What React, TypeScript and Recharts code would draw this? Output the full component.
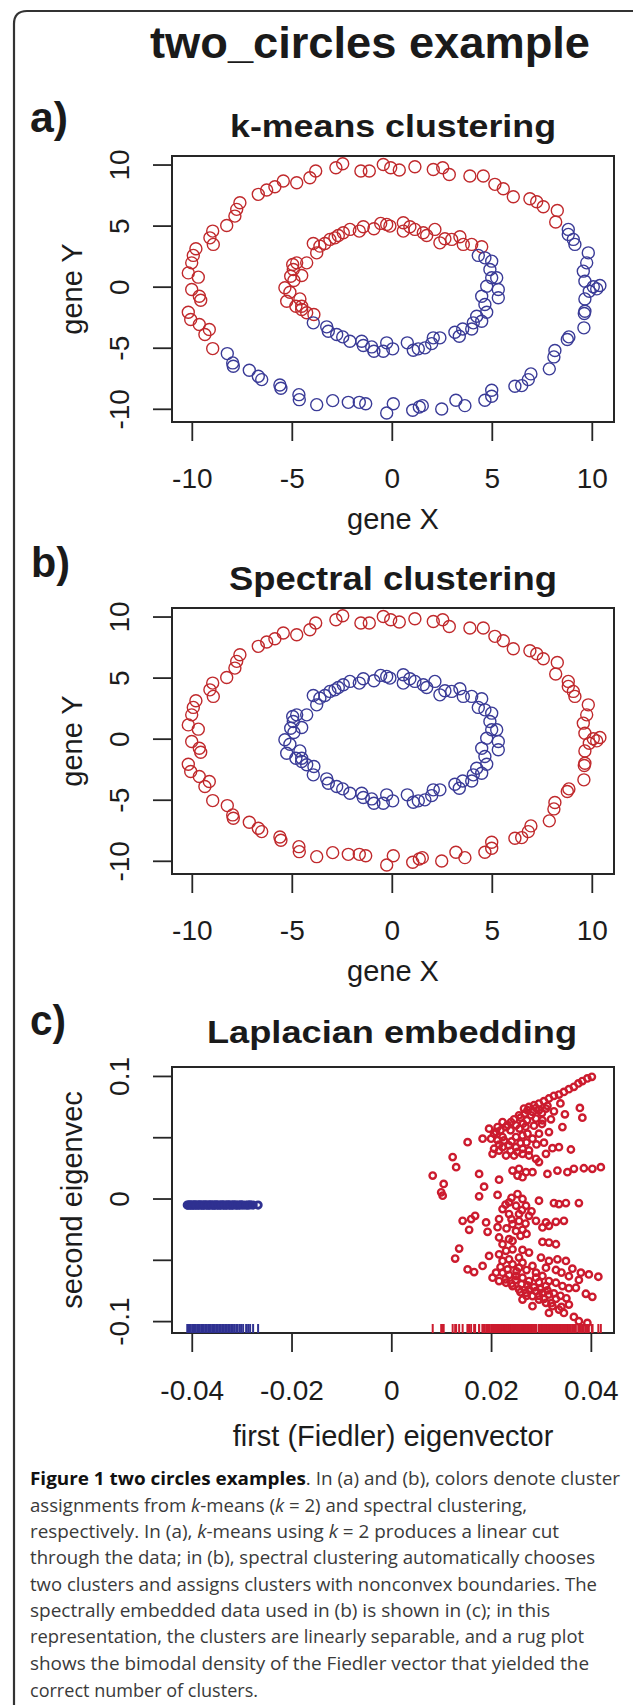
import React from 'react';
import { ScatterChart, Scatter, XAxis, YAxis, ReferenceArea } from 'recharts';

// ---------- data ----------
const ringTicks = [-10, -5, 0, 5, 10];
const fiedlerTicks = [-0.04, -0.02, 0, 0.02, 0.04];
const eigenTicks = [-0.1, -0.05, 0, 0.05, 0.1];
const eigenLabelled = [-0.1, 0, 0.1];

// outer ring, part that k-means puts in the red cluster
const outerUpper: [number, number][] = [
  [8.17, 5.33], [8.25, 6.28], [7.55, 6.58], [7.22, 6.99], [6.88, 7.24], [6.05, 7.4], [5.55, 8.06], [5.13, 8.42],
  [4.55, 9.1], [3.88, 9.1], [2.85, 9.23], [2.52, 9.78], [2.05, 9.64], [1.13, 9.86], [0.35, 9.59], [-0.08, 9.78],
  [-0.45, 10.05], [-1.15, 9.51], [-1.57, 9.51], [-2.48, 10.11], [-2.82, 9.78], [-3.83, 9.51], [-4.12, 8.96],
  [-4.78, 8.55], [-5.45, 8.69], [-5.87, 8.22], [-6.28, 7.95], [-6.7, 7.6], [-7.62, 6.91], [-7.78, 6.37],
  [-7.87, 5.82], [-8.28, 5.05], [-8.98, 4.59], [-9.12, 4.04], [-8.95, 3.5], [-9.82, 3.14], [-9.95, 2.6],
  [-10.03, 1.99], [-10.2, 1.17], [-9.7, 0.82], [-10.03, -0.19], [-9.65, -0.74], [-9.58, -1.07], [-10.2, -2.05],
  [-10.08, -2.65], [-9.65, -3.06], [-9.15, -3.47], [-9.37, -3.88], [-8.98, -5.03],
];
// outer ring, part that k-means puts in the blue cluster
const outerLower: [number, number][] = [
  [-8.25, -5.44], [-7.98, -6.2], [-7.95, -6.48], [-7.15, -6.8], [-6.7, -7.3], [-6.53, -7.57], [-5.62, -8.01],
  [-5.57, -8.28], [-4.67, -8.8], [-4.65, -9.21], [-3.78, -9.62], [-2.98, -9.29], [-2.2, -9.43], [-1.65, -9.43],
  [-1.33, -9.54], [-0.28, -10.3], [0.05, -9.54], [1.02, -10.08], [1.35, -9.81], [1.5, -9.7], [2.47, -9.97],
  [3.18, -9.26], [3.63, -9.7], [4.63, -9.26], [4.97, -8.44], [4.97, -8.93], [6.13, -8.11], [6.47, -8.06],
  [6.8, -7.57], [6.93, -7.1], [7.85, -6.69], [8.08, -5.71], [8.13, -5.19], [8.75, -4.29], [8.83, -4.07],
  [9.58, -3.33], [9.6, -2.16], [9.63, -1.97], [9.63, -0.96], [9.85, -0.33], [10.05, 0.03], [10.38, 0.14],
  [10.22, -0.14], [9.63, 0.49], [9.55, 1.31], [9.72, 1.99], [9.8, 2.81], [9.13, 3.5], [9.05, 3.91],
  [8.8, 4.32], [8.8, 4.73],
];
// inner ring, k-means red part
const innerUpper: [number, number][] = [
  [4.47, 3.31], [3.97, 3.5], [3.55, 3.5], [3.38, 4.13], [2.97, 3.91], [2.63, 3.96], [2.38, 3.63], [2.13, 4.73],
  [1.72, 4.23], [1.55, 4.45], [1.13, 4.73], [0.88, 4.95], [0.55, 4.59], [0.55, 5.27], [-0.12, 5.0], [-0.28, 5.14],
  [-0.58, 5.22], [-0.92, 4.78], [-1.45, 4.95], [-1.65, 4.59], [-2.12, 4.73], [-2.45, 4.45], [-2.7, 4.23],
  [-2.87, 4.04], [-3.12, 3.91], [-3.37, 3.58], [-3.62, 3.36], [-3.78, 2.81], [-3.95, 3.58], [-4.28, 1.99],
  [-4.78, 1.99], [-4.98, 1.86], [-4.95, 1.45], [-4.53, 0.96], [-5.08, 0.9], [-4.92, 0.55], [-5.37, -0.05],
  [-5.12, -0.41], [-5.28, -1.15], [-4.62, -0.96], [-4.82, -1.56], [-4.53, -1.83], [-4.28, -2.1], [-4.53, -1.56],
  [-3.92, -2.24],
];
// inner ring, k-means blue part
const innerLower: [number, number][] = [
  [-3.95, -2.92], [-3.28, -3.25], [-3.2, -3.61], [-2.78, -3.88], [-2.48, -4.07], [-2.12, -4.43], [-1.53, -4.43],
  [-1.45, -4.78], [-1.03, -4.89], [-0.92, -5.25], [-0.45, -5.25], [-0.28, -4.56], [0.02, -5.05], [0.75, -4.56],
  [1.05, -5.16], [1.3, -5.05], [1.63, -4.97], [1.97, -4.62], [2.05, -4.15], [2.38, -4.15], [3.13, -3.69],
  [3.35, -4.02], [3.52, -3.42], [3.97, -3.42], [4.05, -2.92], [4.22, -2.38], [4.47, -2.79], [4.72, -2.05],
  [4.63, -1.42], [4.47, -0.74], [4.72, 0.08], [5.3, -0.19], [5.3, -0.87], [4.97, 0.77], [5.22, 0.77],
  [4.88, 1.45], [4.97, 2.13], [4.63, 2.4], [4.3, 2.6],
];
// Laplacian embedding: outer-ring cluster (red)
const embedRed: [number, number][] = [
  [0.0401, 0.0997], [0.0392, 0.0984], [0.0382, 0.0962], [0.0374, 0.0943], [0.0365, 0.0915], [0.0355, 0.0896],
  [0.0345, 0.0874], [0.0335, 0.0852], [0.0325, 0.0842], [0.0315, 0.082], [0.0305, 0.0798], [0.0295, 0.0779],
  [0.0285, 0.0765], [0.0275, 0.0751], [0.0265, 0.0738], [0.0267, 0.0697], [0.0282, 0.071], [0.0295, 0.0724],
  [0.0309, 0.0738], [0.0289, 0.0656], [0.0302, 0.0642], [0.0319, 0.065], [0.0347, 0.0691], [0.0377, 0.0743],
  [0.0382, 0.0664], [0.0255, 0.0683], [0.0239, 0.0628], [0.0222, 0.0628], [0.0212, 0.0587], [0.0195, 0.0574],
  [0.0229, 0.0587], [0.0249, 0.0601], [0.0263, 0.0615],
  [0.0272, 0.0724], [0.0289, 0.0742], [0.0301, 0.0701], [0.0312, 0.076], [0.0325, 0.0715], [0.0338, 0.078],
  [0.0279, 0.0683], [0.0258, 0.0664], [0.0271, 0.0642], [0.0245, 0.065], [0.0232, 0.0605], [0.0218, 0.056],
  [0.0209, 0.0547], [0.0238, 0.056], [0.0256, 0.0575], [0.0268, 0.059], [0.0285, 0.0598], [0.0301, 0.0612],
  [0.0152, 0.0464], [0.0182, 0.0492], [0.0205, 0.0533], [0.0199, 0.0492], [0.0222, 0.0505], [0.0249, 0.0505],
  [0.0262, 0.0519], [0.0272, 0.0533], [0.0282, 0.0492], [0.0295, 0.0533], [0.0315, 0.0546], [0.0342, 0.0587],
  [0.0322, 0.0415], [0.0335, 0.0423], [0.0359, 0.0404], [0.0309, 0.0369], [0.0289, 0.0328], [0.0295, 0.0301],
  [0.0275, 0.0396], [0.0262, 0.041], [0.0249, 0.0423], [0.0235, 0.0437], [0.0222, 0.0423], [0.0205, 0.041],
  [0.0202, 0.0369], [0.0229, 0.0355], [0.0245, 0.0355], [0.0262, 0.0369], [0.0275, 0.0355], [0.0225, 0.0478],
  [0.0215, 0.0443], [0.0212, 0.048], [0.024, 0.047], [0.0258, 0.0455], [0.027, 0.0462], [0.029, 0.0445],
  [0.0305, 0.046], [0.0238, 0.0395], [0.0252, 0.0385], [0.0215, 0.0395],
  [0.0242, 0.0232], [0.0255, 0.0246], [0.0269, 0.0219], [0.0262, 0.0178], [0.0252, 0.0191], [0.0282, 0.0219],
  [0.0312, 0.0205], [0.0332, 0.0232], [0.0352, 0.0219], [0.0365, 0.0246], [0.0385, 0.0251], [0.0402, 0.0246],
  [0.0419, 0.026], [0.0175, 0.0205], [0.0215, 0.0158], [0.0185, 0.0101], [0.0122, 0.0342], [0.0129, 0.026],
  [0.0082, 0.0191], [0.0104, 0.0123], [0.0099, 0.0055], [0.0102, 0.0027], [0.0175, 0.0022], [0.0212, 0.0033],
  [0.0235, -0.0027], [0.0249, -0.0055], [0.0262, 0.0], [0.0269, -0.0055], [0.0295, -0.0014], [0.0325, -0.0033],
  [0.0335, -0.0041], [0.0349, -0.0033], [0.0375, -0.0033], [0.0222, -0.0082], [0.0235, -0.0123], [0.0255, -0.0123],
  [0.0275, -0.0137], [0.0289, -0.0178], [0.0309, -0.0191], [0.0329, -0.0186], [0.0345, -0.0178], [0.0302, -0.0232],
  [0.0315, -0.0219], [0.0215, -0.0164], [0.0242, -0.0205], [0.0249, -0.026], [0.0262, -0.0251], [0.0142, -0.0178],
  [0.0159, -0.0164], [0.0167, -0.0137], [0.0189, -0.0191], [0.0155, -0.0251], [0.0192, -0.0268], [0.0215, -0.0314],
  [0.0235, -0.0328], [0.0222, -0.0369], [0.0242, -0.0342], [0.0302, -0.035], [0.0315, -0.0355], [0.0329, -0.0369],
  [0.0252, 0.004], [0.024, 0.001], [0.0228, -0.0045], [0.0261, -0.009], [0.028, -0.01], [0.024, -0.0165],
  [0.0255, -0.018], [0.0268, -0.02], [0.023, -0.024], [0.0212, -0.023], [0.0258, -0.03], [0.027, -0.0285],
  [0.0135, -0.0404], [0.0127, -0.0486], [0.0152, -0.0574], [0.0165, -0.0596], [0.0182, -0.0546], [0.0195, -0.0464],
  [0.0215, -0.0451], [0.0229, -0.0423], [0.0242, -0.041], [0.0262, -0.0415], [0.0275, -0.0437], [0.0255, -0.0478],
  [0.0235, -0.0492], [0.0222, -0.0505], [0.0242, -0.0533], [0.0262, -0.0519], [0.0282, -0.0546], [0.0299, -0.0478],
  [0.0315, -0.0505], [0.0332, -0.0492], [0.0349, -0.0505], [0.0362, -0.0568], [0.0379, -0.0601], [0.0395, -0.0615],
  [0.0414, -0.0634], [0.0329, -0.0579], [0.0309, -0.056], [0.0289, -0.0601], [0.0202, -0.0642], [0.0215, -0.0669],
  [0.0229, -0.0683], [0.0242, -0.071], [0.0255, -0.0738], [0.0269, -0.0765], [0.0282, -0.0792], [0.0295, -0.082],
  [0.0309, -0.0847], [0.0322, -0.0874], [0.0335, -0.0902], [0.0345, -0.0929], [0.0249, -0.0628], [0.0262, -0.0642],
  [0.0275, -0.0669], [0.0289, -0.0642], [0.0302, -0.0628], [0.0315, -0.0669], [0.0329, -0.0683], [0.0342, -0.071],
  [0.0355, -0.0727], [0.0369, -0.0724], [0.0389, -0.0773], [0.0402, -0.0798], [0.0209, -0.0601], [0.0222, -0.0601],
  [0.0275, -0.0738], [0.0289, -0.0751], [0.0302, -0.0765], [0.0315, -0.0779], [0.0329, -0.0814], [0.0309, -0.071],
  [0.0295, -0.0678], [0.0262, -0.082], [0.0282, -0.0874], [0.0315, -0.0929], [0.0365, -0.0962], [0.0375, -0.0997],
  [0.0392, -0.1011], [0.0355, -0.0861],
  [0.0235, -0.062], [0.0248, -0.066], [0.026, -0.0695], [0.0272, -0.0705], [0.0285, -0.072], [0.0298, -0.0735],
  [0.0312, -0.0745], [0.0325, -0.077], [0.0338, -0.079], [0.035, -0.081], [0.0228, -0.0655], [0.024, -0.069],
  [0.0258, -0.076], [0.027, -0.079], [0.0295, -0.079], [0.0305, -0.0815], [0.032, -0.085], [0.034, -0.088],
  [0.0255, -0.056], [0.027, -0.058], [0.0218, -0.0555], [0.0232, -0.0575], [0.025, -0.059], [0.034, -0.06],
  [0.0355, -0.063], [0.0375, -0.066],
];
// Laplacian embedding: inner-ring cluster (blue), collapsed onto one line
const embedBlue: [number, number][] = [
  [-0.041, -0.0049], [-0.0408, -0.005], [-0.0405, -0.0048], [-0.0403, -0.0049], [-0.04, -0.005], [-0.0398, -0.0049],
  [-0.0395, -0.0048], [-0.0393, -0.0049], [-0.039, -0.005], [-0.0387, -0.0049], [-0.0385, -0.0048], [-0.0382, -0.0049],
  [-0.0379, -0.005], [-0.0377, -0.0049], [-0.0374, -0.0048], [-0.0371, -0.0049], [-0.0368, -0.005], [-0.0366, -0.0049],
  [-0.0363, -0.0048], [-0.036, -0.0049], [-0.0357, -0.005], [-0.0355, -0.0049], [-0.0352, -0.0048], [-0.0349, -0.0049],
  [-0.0346, -0.005], [-0.0343, -0.0049], [-0.034, -0.0048], [-0.0337, -0.0049], [-0.0334, -0.005], [-0.0331, -0.0049],
  [-0.0328, -0.0048], [-0.0325, -0.0049], [-0.0322, -0.005], [-0.0319, -0.0049], [-0.0316, -0.0048], [-0.0312, -0.0049],
  [-0.0309, -0.005], [-0.0305, -0.0049], [-0.0302, -0.0048], [-0.0298, -0.0049], [-0.0292, -0.005], [-0.0288, -0.0049],
  [-0.0284, -0.0048], [-0.0278, -0.0049], [-0.0268, -0.0049],
];

const captionLines: { t: string; b?: boolean; i?: boolean }[][] = [
  [{ t: 'Figure 1 two circles examples', b: true }, { t: '. In (a) and (b), colors denote cluster' }],
  [{ t: 'assignments from ' }, { t: 'k', i: true }, { t: '-means (' }, { t: 'k', i: true }, { t: ' = 2) and spectral clustering,' }],
  [{ t: 'respectively. In (a), ' }, { t: 'k', i: true }, { t: '-means using ' }, { t: 'k', i: true }, { t: ' = 2 produces a linear cut' }],
  [{ t: 'through the data; in (b), spectral clustering automatically chooses' }],
  [{ t: 'two clusters and assigns clusters with nonconvex boundaries. The' }],
  [{ t: 'spectrally embedded data used in (b) is shown in (c); in this' }],
  [{ t: 'representation, the clusters are linearly separable, and a rug plot' }],
  [{ t: 'shows the bimodal density of the Fiedler vector that yielded the' }],
  [{ t: 'correct number of clusters.' }],
];
const captionWidths = [590, 497, 529, 565, 567, 520, 554, 559, 228];

// ---------- styles ----------
const RED = '#c0292c';
const BLUE = '#3a3b97';
const C_RED = '#cc1b2e';
const C_BLUE = '#2f3191';
const AXIS = '#262626';
const TXT = '#1c1c1c';
const SANS = "'Liberation Sans', Arial, sans-serif";

const toPts = (a: [number, number][]) => a.map(([x, y]) => ({ x, y }));

const ringDot = (color: string) => (p: any) => (
  <circle cx={p.cx} cy={p.cy} r={6} fill="none" stroke={color} strokeWidth={1.4} />
);
const embedDot = (color: string, sw: number) => (p: any) => (
  <circle cx={p.cx} cy={p.cy} r={3.2} fill="none" stroke={color} strokeWidth={sw} />
);
const rugMark = (color: string) => (p: any) => (
  <line x1={p.cx} x2={p.cx} y1={p.cy - 9} y2={p.cy} stroke={color} strokeWidth={2} />
);

const xTick = (dy: number) => (p: any) => (
  <text x={p.x} y={p.y + dy} textAnchor="middle" fontSize={28} fontFamily={SANS} fill={TXT}>
    {String(p.payload.value)}
  </text>
);
const yTick = (show?: number[]) => (p: any) => {
  const v = p.payload.value;
  if (show && !show.some((s) => Math.abs(s - v) < 1e-9)) return <g />;
  const bx = p.x - 24;
  return (
    <text transform={`rotate(-90 ${bx} ${p.y})`} x={bx} y={p.y} textAnchor="middle" fontSize={28} fontFamily={SANS} fill={TXT}>
      {String(v)}
    </text>
  );
};
const xTitle = (label: string, dy: number) => (p: any) => {
  const vb = p.viewBox || { x: 172, y: 282, width: 442, height: 118 };
  const cx = vb.x + vb.width / 2;
  return (
    <text x={cx} y={vb.y + dy} textAnchor="middle" fontSize={29} fontFamily={SANS} fill={TXT}>
      {label}
    </text>
  );
};
const yTitle = (label: string) => (p: any) => {
  const vb = p.viewBox || { x: 0, y: 16, width: 172, height: 266 };
  const cy = vb.y + vb.height / 2;
  const bx = 82;
  return (
    <text transform={`rotate(-90 ${bx} ${cy})`} x={bx} y={cy} textAnchor="middle" fontSize={29} fontFamily={SANS} fill={TXT}>
      {label}
    </text>
  );
};

const RX: [number, number] = [-11.015, 11.085];
const RY: [number, number] = [-11.04, 10.74];
const FX: [number, number] = [-0.04406, 0.04454];
const FY: [number, number] = [-0.1093, 0.1077];

function RingPanel({ top, red, blue }: { top: number; red: { x: number; y: number }[]; blue: { x: number; y: number }[] }) {
  return (
    <div style={{ position: 'absolute', left: 0, top, width: 633, height: 400 }}>
      <ScatterChart width={633} height={400} margin={{ top: 16, right: 19, bottom: 0, left: 0 }}>
        <XAxis
          type="number" dataKey="x" domain={RX} allowDataOverflow ticks={ringTicks} interval={0}
          tickSize={19} tickMargin={0} height={118} axisLine={false}
          tickLine={{ stroke: AXIS, strokeWidth: 1.8 }} tick={xTick(47)} label={xTitle('gene X', 107)}
        />
        <YAxis
          type="number" dataKey="y" domain={RY} allowDataOverflow ticks={ringTicks} interval={0}
          tickSize={19} tickMargin={0} width={172} axisLine={false}
          tickLine={{ stroke: AXIS, strokeWidth: 1.8 }} tick={yTick()} label={yTitle('gene Y')}
        />
        <ReferenceArea x1={RX[0]} x2={RX[1]} y1={RY[0]} y2={RY[1]} fill="none" stroke={AXIS} strokeWidth={2} ifOverflow="visible" />
        <Scatter data={red} shape={ringDot(RED)} isAnimationActive={false} />
        <Scatter data={blue} shape={ringDot(BLUE)} isAnimationActive={false} />
      </ScatterChart>
    </div>
  );
}

function EmbedPanel({ top }: { top: number }) {
  const red = toPts(embedRed);
  const blue = toPts(embedBlue);
  const rugRed = embedRed.map(([x]) => ({ x, y: FY[0] }));
  const rugBlue = embedBlue.map(([x]) => ({ x, y: FY[0] }));
  return (
    <div style={{ position: 'absolute', left: 0, top, width: 633, height: 420 }}>
      <ScatterChart width={633} height={420} margin={{ top: 17, right: 19, bottom: 0, left: 0 }}>
        <XAxis
          type="number" dataKey="x" domain={FX} allowDataOverflow ticks={fiedlerTicks} interval={0}
          tickSize={19} tickMargin={0} height={137} axisLine={false}
          tickLine={{ stroke: AXIS, strokeWidth: 1.8 }} tick={xTick(48)} label={xTitle('first (Fiedler) eigenvector', 113)}
        />
        <YAxis
          type="number" dataKey="y" domain={FY} allowDataOverflow ticks={eigenTicks} interval={0}
          tickSize={19} tickMargin={0} width={172} axisLine={false}
          tickLine={{ stroke: AXIS, strokeWidth: 1.8 }} tick={yTick(eigenLabelled)} label={yTitle('second eigenvec')}
        />
        <ReferenceArea x1={FX[0]} x2={FX[1]} y1={FY[0]} y2={FY[1]} fill="none" stroke={AXIS} strokeWidth={2} ifOverflow="visible" />
        <Scatter data={red} shape={embedDot(C_RED, 2.4)} isAnimationActive={false} />
        <Scatter data={blue} shape={embedDot(C_BLUE, 2.8)} isAnimationActive={false} />
        <Scatter data={rugRed} shape={rugMark(C_RED)} isAnimationActive={false} />
        <Scatter data={rugBlue} shape={rugMark(C_BLUE)} isAnimationActive={false} />
      </ScatterChart>
    </div>
  );
}

function Overlay() {
  const bold = { fontFamily: SANS, fontWeight: 700, fill: '#1a1a1a' } as const;
  const capBase = [1485, 1511.5, 1538, 1564, 1590.5, 1617, 1643, 1670, 1697];
  return (
    <svg width={633} height={1705} style={{ position: 'absolute', left: 0, top: 0, pointerEvents: 'none' }}>
      <path d="M 14 1710 L 14 24 Q 14 11 27 11 L 640 11" fill="none" stroke="#333" strokeWidth={2.2} />
      <text x={150} y={58} fontSize={44} textLength={440} lengthAdjust="spacingAndGlyphs" {...bold}>two_circles example</text>
      <text x={30} y={132} fontSize={43} textLength={38} lengthAdjust="spacingAndGlyphs" {...bold}>a)</text>
      <text x={230} y={137} fontSize={32} textLength={326} lengthAdjust="spacingAndGlyphs" {...bold}>k-means clustering</text>
      <text x={31} y={577} fontSize={43} textLength={39} lengthAdjust="spacingAndGlyphs" {...bold}>b)</text>
      <text x={229} y={590} fontSize={33} textLength={328} lengthAdjust="spacingAndGlyphs" {...bold}>Spectral clustering</text>
      <text x={30} y={1035} fontSize={43} textLength={36} lengthAdjust="spacingAndGlyphs" {...bold}>c)</text>
      <text x={207} y={1043} fontSize={31} textLength={370} lengthAdjust="spacingAndGlyphs" {...bold}>Laplacian embedding</text>
      {captionLines.map((line, i) => (
        <text key={i} x={30} y={capBase[i]} fontSize={18} fontFamily="'Open Sans', sans-serif" fill="#3a3a3a"
          textLength={captionWidths[i]} lengthAdjust="spacingAndGlyphs">
          {line.map((s, j) => (
            <tspan key={j} fontWeight={s.b ? 700 : 400} fontStyle={s.i ? 'italic' : 'normal'} fill={s.b ? '#111' : '#3a3a3a'}>
              {s.t}
            </tspan>
          ))}
        </text>
      ))}
    </svg>
  );
}

export default function App() {
  const kmRed = toPts([...outerUpper, ...innerUpper]);
  const kmBlue = toPts([...outerLower, ...innerLower]);
  const spRed = toPts([...outerUpper, ...outerLower]);
  const spBlue = toPts([...innerUpper, ...innerLower]);
  return (
    <div style={{ position: 'absolute', left: 0, top: 0, width: 633, height: 1705, overflow: 'hidden', background: '#fff' }}>
      <RingPanel top={140} red={kmRed} blue={kmBlue} />
      <RingPanel top={592} red={spRed} blue={spBlue} />
      <EmbedPanel top={1050} />
      <Overlay />
    </div>
  );
}
